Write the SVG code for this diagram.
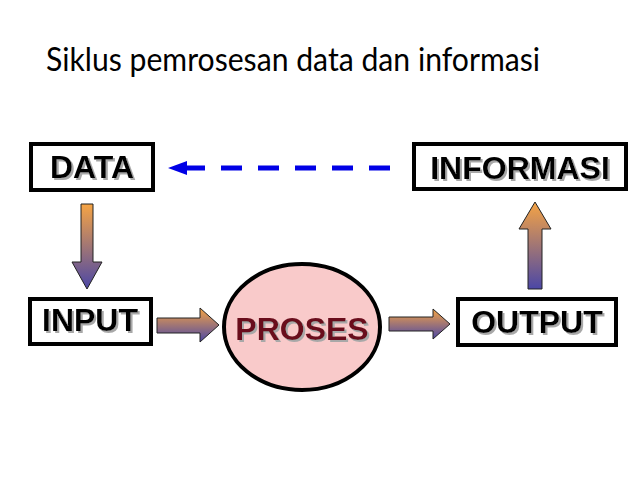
<svg xmlns="http://www.w3.org/2000/svg" width="638" height="479" viewBox="0 0 638 479">
<defs>
<style>
.box{fill:#fff;stroke:#000;stroke-width:4}
.lbl{font-family:"Liberation Sans",Arial,sans-serif;font-weight:bold;font-size:32px;text-anchor:middle;filter:url(#shadow)}
.arr{fill:url(#g);stroke:#222;stroke-width:1}
.title{font-family:Lato,"Open Sans",sans-serif;font-size:32px;fill:#000}
</style>
<filter id="shadow" x="-10%" y="-20%" width="130%" height="150%">
<feOffset in="SourceAlpha" dx="2" dy="2" result="off"/>
<feFlood flood-color="#a8a8a8"/>
<feComposite in2="off" operator="in" result="sh"/>
<feMerge><feMergeNode in="sh"/><feMergeNode in="SourceGraphic"/></feMerge>
</filter>
<linearGradient id="g" x1="0" y1="0" x2="0" y2="1">
<stop offset="0" stop-color="#F6A444"/>
<stop offset="1" stop-color="#4B47A6"/>
</linearGradient>
</defs>
<rect width="638" height="479" fill="#fff"/>
<text class="title" x="46" y="71" textLength="494" lengthAdjust="spacingAndGlyphs">Siklus pemrosesan data dan informasi</text>

<g id="connectors">
<polygon class="arr" points="81,204 93,204 93,262 102,262 87,289 72,262 81,262"/>
<polygon class="arr" points="157,318 200,318 200,308 219,325 200,342 200,333 157,333"/>
<polygon class="arr" points="389,317 433,317 433,309 450,324 433,339 433,331 389,331"/>
<polygon class="arr" points="535,202 551,229 542,229 542,289 528,289 528,229 519,229"/>
<line x1="390" y1="168" x2="184" y2="168" stroke="#0000E6" stroke-width="5" stroke-dasharray="21 16"/>
<polygon points="168,168 187,161 187,175" fill="#0000E6"/>
</g>

<g id="data">
<rect class="box" x="31" y="144" width="122" height="46"/>
<text class="lbl" x="92" y="178" fill="#000">DATA</text>
</g>
<g id="informasi">
<rect class="box" x="414" y="144" width="212" height="45"/>
<text class="lbl" x="520" y="179" fill="#000">INFORMASI</text>
</g>
<g id="input">
<rect class="box" x="30" y="299" width="121" height="45"/>
<text class="lbl" x="90" y="331" fill="#000">INPUT</text>
</g>
<g id="output">
<rect class="box" x="458" y="299" width="158" height="46"/>
<text class="lbl" x="537" y="333" fill="#000">OUTPUT</text>
</g>
<g id="proses">
<ellipse cx="302" cy="327" rx="78" ry="63" fill="#F9CACA" stroke="#000" stroke-width="4"/>
<text class="lbl" x="302" y="340" fill="#6B0F1E">PROSES</text>
</g>
</svg>
